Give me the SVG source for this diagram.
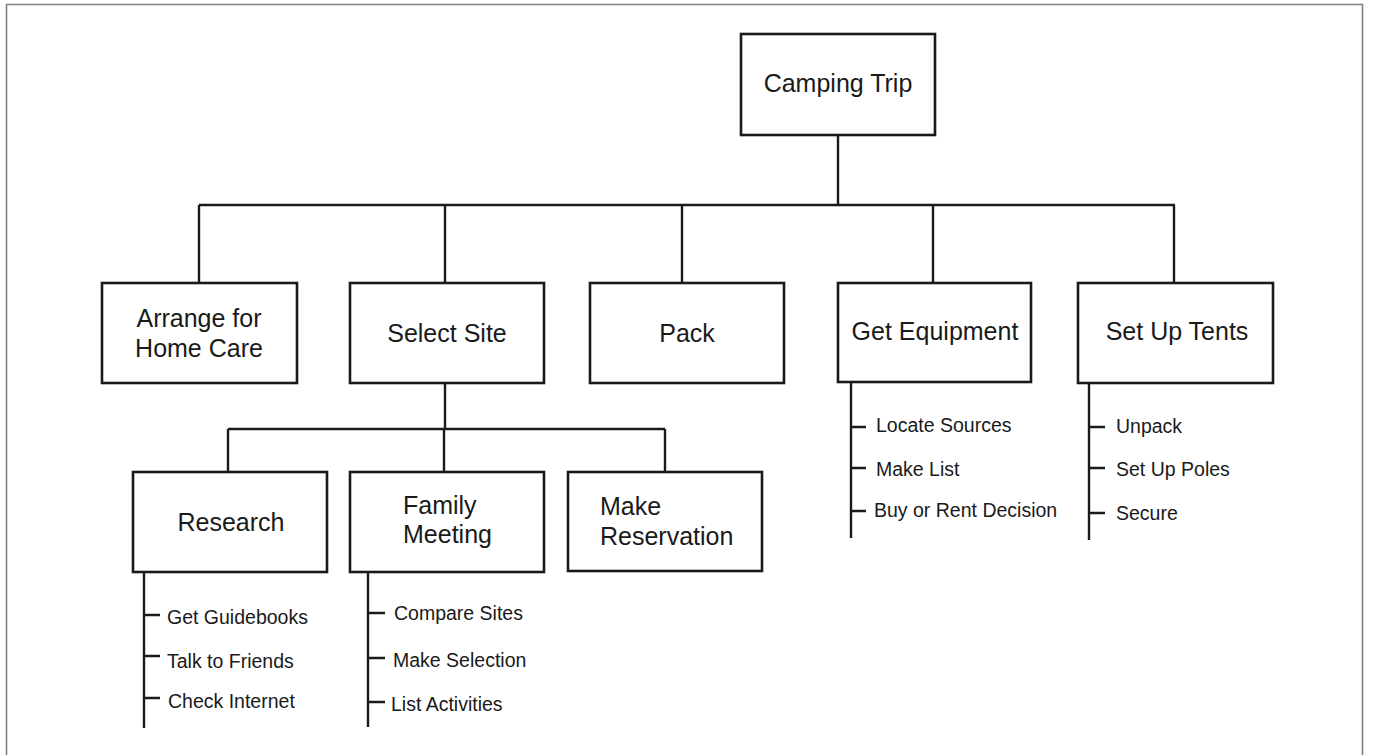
<svg xmlns="http://www.w3.org/2000/svg" width="1373" height="755" viewBox="0 0 1373 755">
<style>
.box{fill:#fff;stroke:#1a1a1a;stroke-width:2.6}
.ln{fill:none;stroke:#1a1a1a;stroke-width:2.4}
.t{font-family:"Liberation Sans",Arial,sans-serif;font-size:25px;fill:#1a1a1a}
.s{font-family:"Liberation Sans",Arial,sans-serif;font-size:19.5px;fill:#1a1a1a}
.c{text-anchor:middle}
</style>
<rect width="1373" height="755" fill="#fff"/>
<path d="M6.5,760 V4.5 H1362.5 V760" fill="none" stroke="#808080" stroke-width="1.6"/>
<g id="connectors" class="ln">
<path d="M838,135 V205 M199,205 H1175 M199,205 V283 M445,205 V283 M682,205 V283 M933,205 V283 M1174,205 V283"/>
<path d="M445,383 V429 M228,429 H665 M228,429 V472 M444,429 V472 M665,429 V472"/>
<path d="M144,572 V728 M144,615 H160 M144,656 H160 M144,698 H160"/>
<path d="M368,572 V727 M368,613 H385 M368,658 H385 M368,702 H385"/>
<path d="M851,383 V538 M851,427 H866 M851,468 H866 M851,511 H866"/>
<path d="M1089,383 V540 M1089,427 H1105 M1089,468 H1105 M1089,513 H1105"/>
</g>
<g id="camping-trip"><rect class="box" x="741" y="34" width="194" height="101"/><text class="t c" x="838" y="92">Camping Trip</text></g>
<g id="arrange"><rect class="box" x="102" y="283" width="195" height="100"/><text class="t c" x="199" y="327">Arrange for</text><text class="t c" x="199" y="357">Home Care</text></g>
<g id="select-site"><rect class="box" x="350" y="283" width="194" height="100"/><text class="t c" x="447" y="342">Select Site</text></g>
<g id="pack"><rect class="box" x="590" y="283" width="194" height="100"/><text class="t c" x="687" y="342">Pack</text></g>
<g id="get-equipment"><rect class="box" x="838" y="283" width="193" height="99"/><text class="t c" x="935" y="340">Get Equipment</text></g>
<g id="set-up-tents"><rect class="box" x="1078" y="283" width="195" height="100"/><text class="t c" x="1177" y="340">Set Up Tents</text></g>
<g id="research"><rect class="box" x="133" y="472" width="194" height="100"/><text class="t c" x="231" y="531">Research</text></g>
<g id="family-meeting"><rect class="box" x="350" y="472" width="194" height="100"/><text class="t" x="403" y="514">Family</text><text class="t" x="403" y="543">Meeting</text></g>
<g id="make-reservation"><rect class="box" x="568" y="472" width="194" height="99"/><text class="t" x="600" y="515">Make</text><text class="t" x="600" y="545">Reservation</text></g>
<g id="research-items"><text class="s" x="167" y="624">Get Guidebooks</text><text class="s" x="167" y="668">Talk to Friends</text><text class="s" x="168" y="708">Check Internet</text></g>
<g id="family-items"><text class="s" x="394" y="620">Compare Sites</text><text class="s" x="393" y="667">Make Selection</text><text class="s" x="391" y="711">List Activities</text></g>
<g id="equipment-items"><text class="s" x="876" y="432">Locate Sources</text><text class="s" x="876" y="476">Make List</text><text class="s" x="874" y="517">Buy or Rent Decision</text></g>
<g id="tents-items"><text class="s" x="1116" y="433">Unpack</text><text class="s" x="1116" y="476">Set Up Poles</text><text class="s" x="1116" y="520">Secure</text></g>
</svg>
